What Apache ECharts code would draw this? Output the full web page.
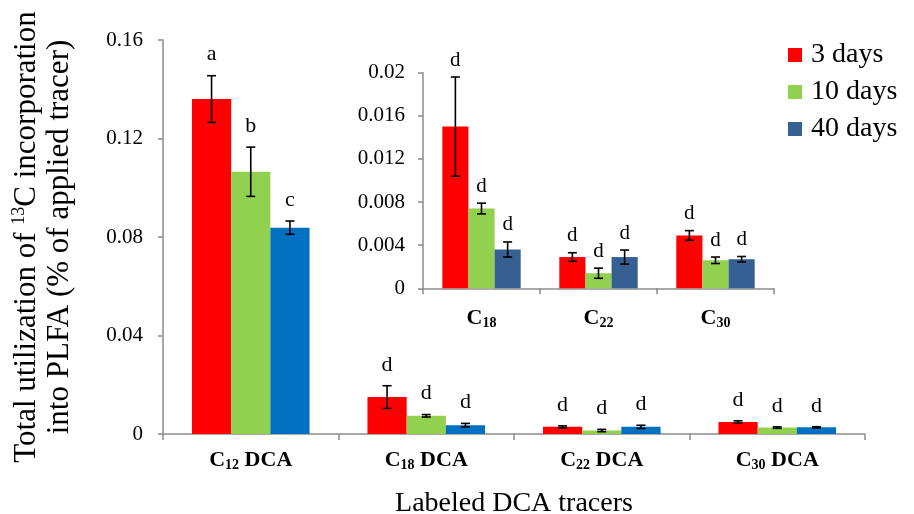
<!DOCTYPE html>
<html>
<head>
<meta charset="utf-8">
<script src="https://cdn.jsdelivr.net/npm/echarts@6/dist/echarts.min.js"></script>
<style>
html,body{margin:0;padding:0;background:#fff;}
#chart{width:914px;height:514px;}
</style>
</head>
<body>
<div id="chart"></div>
<script>
// ---------------- data ----------------
const categories = ['C12 DCA', 'C18 DCA', 'C22 DCA', 'C30 DCA'];
const insetCategories = ['C18', 'C22', 'C30'];
const seriesNames = ['3 days', '10 days', '40 days'];

const val3  = [0.136, 0.0150, 0.0029, 0.0049];
const err3  = [0.0095, 0.0046, 0.0004, 0.00045];
const val10 = [0.1065, 0.0074, 0.0014, 0.0026];
const err10 = [0.0100, 0.0005, 0.00047, 0.0003];
const val40 = [0.0838, 0.0036, 0.0029, 0.0027];
const err40 = [0.0027, 0.0007, 0.00065, 0.00025];

const letters3  = ['a', 'd', 'd', 'd'];
const letters10 = ['b', 'd', 'd', 'd'];
const letters40 = ['c', 'd', 'd', 'd'];

const mainTicks  = [0, 0.04, 0.08, 0.12, 0.16];
const insetTicks = [0, 0.004, 0.008, 0.012, 0.016, 0.02];

// ---------------- styling ----------------
const SERIF = '"Liberation Serif","Times New Roman",serif';
const mainColors  = ['#FF0000', '#92D050', '#0070C0'];
const insetColors = ['#FF0000', '#92D050', '#376092'];
const axisGray = '#8c8c8c';
const GAP = 0.33;

const vals = [val3, val10, val40];
const errs = [err3, err10, err40];
const lets = [letters3, letters10, letters40];

function subLabel(v) {
  const m = v.match(/^C(\d+)(.*)$/);
  return '{c|C}{s|' + m[1] + '}{c|' + m[2] + '}';
}

function errSeries(k, axisIdx, values, errors, letters, fontSize, offset) {
  return {
    type: 'custom',
    name: seriesNames[k],
    xAxisIndex: axisIdx, yAxisIndex: axisIdx,
    z: 5,
    silent: true,
    encode: { x: 0, y: 1 },
    data: values.map((v, i) => [i, v, errors[i]]),
    renderItem: function (params, api) {
      const ci = api.value(0), v = api.value(1), e = api.value(2);
      const band = api.size([1, 0])[0];
      const bw = band * (1 - GAP) / 3;
      const x = api.coord([ci, v])[0] + (k - 1) * bw;
      const yT = api.coord([ci, v + e])[1];
      const yB = api.coord([ci, v - e])[1];
      const cap = 4.5;
      const st = { stroke: '#000', lineWidth: 1.6 };
      return {
        type: 'group',
        children: [
          { type: 'line', shape: { x1: x, y1: yT, x2: x, y2: yB }, style: st },
          { type: 'line', shape: { x1: x - cap, y1: yT, x2: x + cap, y2: yT }, style: st },
          { type: 'line', shape: { x1: x - cap, y1: yB, x2: x + cap, y2: yB }, style: st },
          { type: 'text', x: x, y: yT - offset,
            style: { text: letters[params.dataIndex], fill: '#000', font: fontSize + 'px ' + SERIF,
                     textAlign: 'center', textVerticalAlign: 'middle' } }
        ]
      };
    }
  };
}

const series = [];
// inset bars first (legend colours come from them)
for (let k = 0; k < 3; k++) {
  series.push({
    type: 'bar', name: seriesNames[k], xAxisIndex: 1, yAxisIndex: 1,
    data: vals[k].slice(1), barGap: '0%', barCategoryGap: '33%',
    itemStyle: { color: insetColors[k] }, silent: true
  });
}
for (let k = 0; k < 3; k++) {
  series.push({
    type: 'bar', name: seriesNames[k], xAxisIndex: 0, yAxisIndex: 0,
    data: vals[k], barGap: '0%', barCategoryGap: '33%',
    itemStyle: { color: mainColors[k] }, silent: true
  });
}
for (let k = 0; k < 3; k++) {
  series.push(errSeries(k, 0, vals[k], errs[k], lets[k], 22, 21));
  series.push(errSeries(k, 1, vals[k].slice(1), errs[k].slice(1), lets[k].slice(1), 21, 17));
}

const fmt = v => String(+v.toFixed(4));

const labelRich = {
  c: { fontFamily: SERIF, fontWeight: 'bold', fontSize: 22, color: '#000', lineHeight: 24 },
  s: { fontFamily: SERIF, fontWeight: 'bold', fontSize: 14, color: '#000', lineHeight: 14, verticalAlign: 'bottom' }
};

const option = {
  backgroundColor: '#fff',
  animation: false,
  legend: {
    orient: 'vertical', left: 783, top: 36,
    itemWidth: 14, itemHeight: 14, itemGap: 9,
    icon: 'rect',
    data: seriesNames.map((n, k) => ({ name: n, itemStyle: { color: insetColors[k] } })),
    textStyle: { fontFamily: SERIF, fontSize: 28, color: '#000', lineHeight: 28, padding: [0, 0, 0, 4] },
    selectedMode: false
  },
  grid: [
    { left: 163, top: 40, width: 702, height: 394, containLabel: false, outerBoundsMode: 'none' },
    { left: 423, top: 72.7, width: 351, height: 215.6, containLabel: false, outerBoundsMode: 'none' }
  ],
  xAxis: [
    {
      type: 'category', gridIndex: 0, data: categories,
      axisLine: { lineStyle: { color: axisGray, width: 1.5 } },
      axisTick: { show: true, length: 6, lineStyle: { color: axisGray, width: 1.5 } },
      axisLabel: { margin: 14, formatter: subLabel, rich: labelRich },
      name: 'Labeled DCA tracers', nameLocation: 'middle', nameGap: 56,
      nameTextStyle: { fontFamily: SERIF, fontSize: 28, color: '#000' }
    },
    {
      type: 'category', gridIndex: 1, data: insetCategories,
      axisLine: { lineStyle: { color: axisGray, width: 1.5 } },
      axisTick: { show: true, length: 6, lineStyle: { color: axisGray, width: 1.5 } },
      axisLabel: { margin: 18, formatter: subLabel, rich: labelRich }
    }
  ],
  yAxis: [
    {
      type: 'value', gridIndex: 0, min: mainTicks[0], max: mainTicks[mainTicks.length - 1],
      interval: mainTicks[1] - mainTicks[0],
      splitLine: { show: false },
      axisLine: { show: true, lineStyle: { color: axisGray, width: 1.5 } },
      axisTick: { show: true, length: 5, lineStyle: { color: axisGray, width: 1.5 } },
      axisLabel: { formatter: fmt, fontFamily: SERIF, fontSize: 21, color: '#000', margin: 20 },
      name: '{t|Total utilization of }{sup|13}{t|C incorporation}\n{t|into PLFA (% of applied tracer)}',
      nameLocation: 'middle', nameRotate: 90, nameGap: 87,
      nameTextStyle: {
        fontFamily: SERIF, fontSize: 31, color: '#000', lineHeight: 33,
        rich: {
          t: { fontFamily: SERIF, fontSize: 31, color: '#000', lineHeight: 33 },
          sup: { fontFamily: SERIF, fontSize: 18, color: '#000', lineHeight: 20, verticalAlign: 'top' }
        }
      }
    },
    {
      type: 'value', gridIndex: 1, min: insetTicks[0], max: insetTicks[insetTicks.length - 1],
      interval: insetTicks[1] - insetTicks[0],
      splitLine: { show: false },
      axisLine: { show: true, lineStyle: { color: axisGray, width: 1.5 } },
      axisTick: { show: true, length: 5, lineStyle: { color: axisGray, width: 1.5 } },
      axisLabel: { formatter: fmt, fontFamily: SERIF, fontSize: 21, color: '#000', margin: 18 }
    }
  ],
  series: series
};

const chart = echarts.init(document.getElementById('chart'), null, { renderer: 'canvas' });
chart.setOption(option);
</script>
</body>
</html>
